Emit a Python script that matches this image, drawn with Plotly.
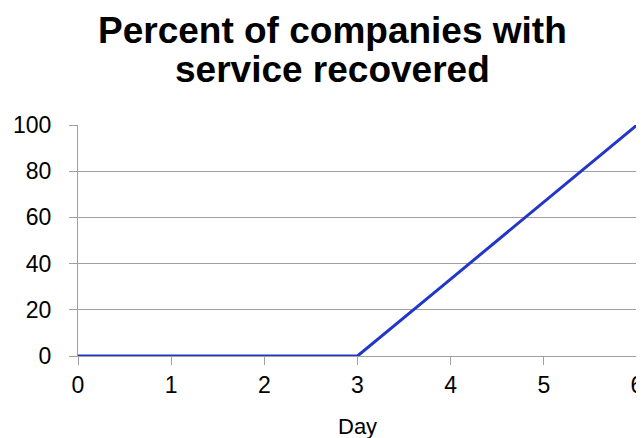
import plotly.graph_objects as go

days = [0, 1, 2, 3, 4, 5, 6]
percent_recovered = [0, 0, 0, 0, 33.3, 66.7, 100]
x_ticks = [0, 1, 2, 3, 4, 5, 6]
y_ticks = [0, 20, 40, 60, 80, 100]
title_lines = ["Percent of companies with", "service recovered"]
x_title = "Day"

grid = "#a0a0a0"
fig = go.Figure(go.Scatter(x=days, y=percent_recovered, mode="lines",
                           line=dict(color="#2236C8", width=3)))
# page body has an 8px default margin, so the figure is sized/offset for it
fig.update_layout(
    width=636, height=430,
    margin=dict(l=70, r=7, t=117, b=82, autoexpand=False),
    paper_bgcolor="white", plot_bgcolor="white",
    font=dict(family="Liberation Sans, Arial, sans-serif", color="black", size=23),
    showlegend=False,
)
fig.add_annotation(text="<b>%s</b>" % title_lines[0], xref="paper", yref="paper",
                   x=0.456, y=1.407, xanchor="center", yanchor="middle",
                   showarrow=False, font=dict(size=37, color="black"))
fig.add_annotation(text="<b>%s</b>" % title_lines[1], xref="paper", yref="paper",
                   x=0.456, y=1.2424, xanchor="center", yanchor="middle",
                   showarrow=False, font=dict(size=37, color="black"))
fig.add_annotation(text=x_title, xref="paper", yref="paper",
                   x=0.5, y=-0.305, xanchor="center", yanchor="middle",
                   showarrow=False, font=dict(size=22, color="black"))
fig.update_xaxes(range=[0, 6], tickvals=x_ticks, showgrid=False,
                 showline=True, linecolor=grid, linewidth=1,
                 ticks="outside", ticklen=8, tickcolor=grid,
                 tickfont=dict(size=23), zeroline=False, automargin=False)
fig.update_yaxes(range=[0, 100], tickvals=y_ticks, showgrid=True,
                 gridcolor=grid, gridwidth=1,
                 showline=True, linecolor=grid, linewidth=1,
                 ticks="outside", ticklen=8, tickcolor=grid,
                 tickfont=dict(size=23), zeroline=False, automargin=False,
                 ticklabelstandoff=13)
fig.write_html("out.html")
